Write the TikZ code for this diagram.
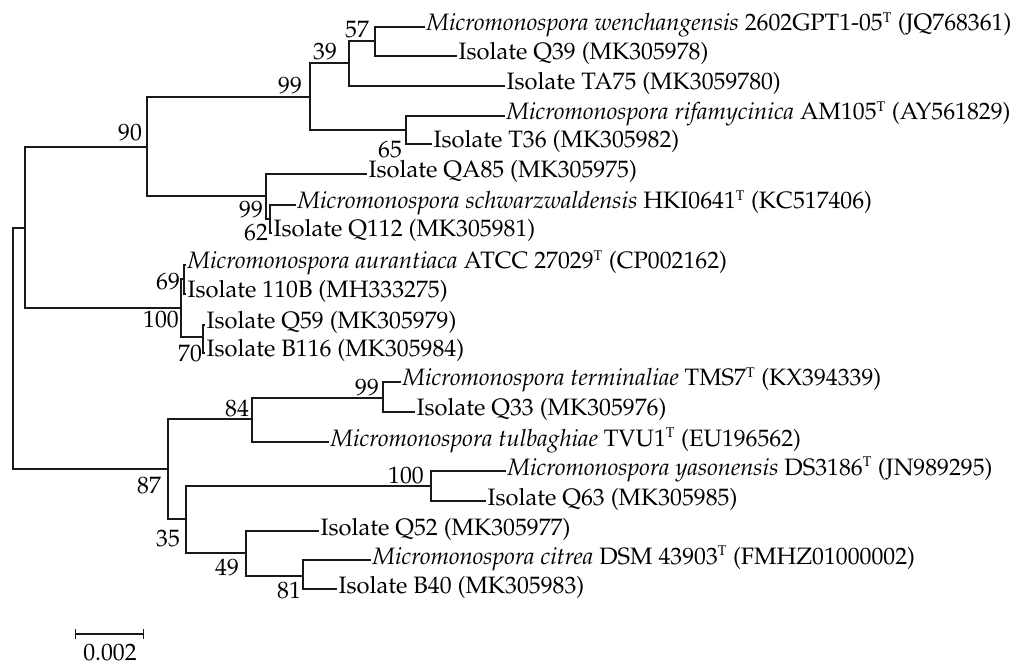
\documentclass[tikz,border=0pt]{standalone}
\usepackage[T1]{fontenc}
\usepackage{mathpazo}
\usepackage{tikz}
\usetikzlibrary{arrows.meta,positioning}
\newcommand{\typestr}{\textsuperscript{\fontsize{10.5}{10}\selectfont T}}

\begin{document}
\begin{tikzpicture}[
  x=0.75pt,y=-0.75pt,
  font=\fontsize{17.8}{20}\selectfont,
  branch/.style={draw=black!90,line width=0.9pt},
  taxon/.style={anchor=west,inner sep=1pt,text height=0.6em,text depth=0pt},
  boot/.style={inner sep=0pt},
  junction/.style={coordinate}
]
\useasboundingbox (0,0) rectangle (1021,666);
\node[junction] (root) at (13,348) {};
\node[junction] (ntop) at (25,228) {};
\node[junction] (n90) at (147,147) {};
\node[junction] (n99a) at (310,97) {};
\node[junction] (n39) at (349,63) {};
\node[junction] (n57) at (375,41) {};
\node[junction] (n65) at (406,130) {};
\node[junction] (n99b) at (266,196) {};
\node[junction] (n62) at (270,219) {};
\node[junction] (n100a) at (181,308) {};
\node[junction] (n69) at (184,279) {};
\node[junction] (n70) at (203,337) {};
\node[junction] (n87) at (168,469) {};
\node[junction] (n84) at (252,419) {};
\node[junction] (n99c) at (383,398) {};
\node[junction] (n35) at (186,519) {};
\node[junction] (n100b) at (431,486) {};
\node[junction] (n49) at (246,553) {};
\node[junction] (n81) at (303,576) {};
\node[taxon] (wench) at (425,27) {\textit{Micromonospora wenchangensis} 2602GPT1-05\typestr{} (JQ768361)};
\node[taxon] (q39) at (457,56) {Isolate Q39 (MK305978)};
\node[taxon] (ta75) at (505,86) {Isolate TA75 (MK3059780)};
\node[taxon] (rifa) at (505,116) {\textit{Micromonospora rifamycinica} AM105\typestr{} (AY561829)};
\node[taxon] (t36) at (432,144) {Isolate T36 (MK305982)};
\node[taxon] (qa85) at (367,174) {Isolate QA85 (MK305975)};
\node[taxon] (schw) at (296,205) {\textit{Micromonospora schwarzwaldensis} HKI0641\typestr{} (KC517406)};
\node[taxon] (q112) at (272,233) {Isolate Q112 (MK305981)};
\node[taxon] (aura) at (186,265) {\textit{Micromonospora aurantiaca} ATCC 27029\typestr{} (CP002162)};
\node[taxon] (i110b) at (186,294) {Isolate 110B (MH333275)};
\node[taxon] (q59) at (205,325) {Isolate Q59 (MK305979)};
\node[taxon] (b116) at (205,353) {Isolate B116 (MK305984)};
\node[taxon] (term) at (401,382) {\textit{Micromonospora terminaliae} TMS7\typestr{} (KX394339)};
\node[taxon] (q33) at (415,412) {Isolate Q33 (MK305976)};
\node[taxon] (tulb) at (329,442) {\textit{Micromonospora tulbaghiae} TVU1\typestr{} (EU196562)};
\node[taxon] (yaso) at (506,471) {\textit{Micromonospora yasonensis} DS3186\typestr{} (JN989295)};
\node[taxon] (q63) at (486,501) {Isolate Q63 (MK305985)};
\node[taxon] (q52) at (319,531) {Isolate Q52 (MK305977)};
\node[taxon] (citr) at (371,560) {\textit{Micromonospora citrea} DSM 43903\typestr{} (FMHZ01000002)};
\node[taxon] (b40) at (337,589) {Isolate B40 (MK305983)};
\draw[branch] (root) |- (ntop);
\draw[branch] (root) |- (n87);
\draw[branch] (ntop) |- (n90);
\draw[branch] (ntop) |- (n100a);
\draw[branch] (n90) |- (n99a);
\draw[branch] (n90) |- (n99b);
\draw[branch] (n99a) |- (n39);
\draw[branch] (n99a) |- (n65);
\draw[branch] (n39) |- (n57);
\draw[branch] (n39) |- (ta75.west);
\draw[branch] (n57) |- (wench.west);
\draw[branch] (n57) |- (q39.west);
\draw[branch] (n65) |- (rifa.west);
\draw[branch] (n65) |- (t36.west);
\draw[branch] (n99b) |- (qa85.west);
\draw[branch] (n99b) |- (n62);
\draw[branch] (n62) |- (schw.west);
\draw[branch] (n62) |- (q112.west);
\draw[branch] (n100a) |- (n69);
\draw[branch] (n100a) |- (n70);
\draw[branch] (n69) |- (aura.west);
\draw[branch] (n69) |- (i110b.west);
\draw[branch] (n70) |- (q59.west);
\draw[branch] (n70) |- (b116.west);
\draw[branch] (n87) |- (n84);
\draw[branch] (n87) |- (n35);
\draw[branch] (n84) |- (n99c);
\draw[branch] (n84) |- (tulb.west);
\draw[branch] (n99c) |- (term.west);
\draw[branch] (n99c) |- (q33.west);
\draw[branch] (n35) |- (n100b);
\draw[branch] (n35) |- (n49);
\draw[branch] (n100b) |- (yaso.west);
\draw[branch] (n100b) |- (q63.west);
\draw[branch] (n49) |- (q52.west);
\draw[branch] (n49) |- (n81);
\draw[branch] (n81) |- (citr.west);
\draw[branch] (n81) |- (b40.west);
\node[boot] (b-n90) at (130,133) {90};
\node[boot] (b-n99a) at (290,86) {99};
\node[boot] (b-n39) at (325,52) {39};
\node[boot] (b-n57) at (357,30) {57};
\node[boot] (b-n65) at (390,150) {65};
\node[boot] (b-n99b) at (251,210) {99};
\node[boot] (b-n62) at (256,233) {62};
\node[boot] (b-n69) at (168,282) {69};
\node[boot] (b-n100a) at (161,320) {100};
\node[boot] (b-n70) at (190,354) {70};
\node[boot] (b-n84) at (237,409) {84};
\node[boot] (b-n99c) at (367,388) {99};
\node[boot] (b-n87) at (149,486) {87};
\node[boot] (b-n35) at (168,539) {35};
\node[boot] (b-n100b) at (406,476) {100};
\node[boot] (b-n49) at (227,568) {49};
\node[boot] (b-n81) at (289,591) {81};
\coordinate (sb-l) at (75,634);
\coordinate (sb-r) at (144,634);
\draw[branch,{Bar[width=7.5pt]}-{Bar[width=7.5pt]}] (sb-l) -- (sb-r);
\node[boot] (sb-text) at (110,653) {0.002};
\end{tikzpicture}
\end{document}
